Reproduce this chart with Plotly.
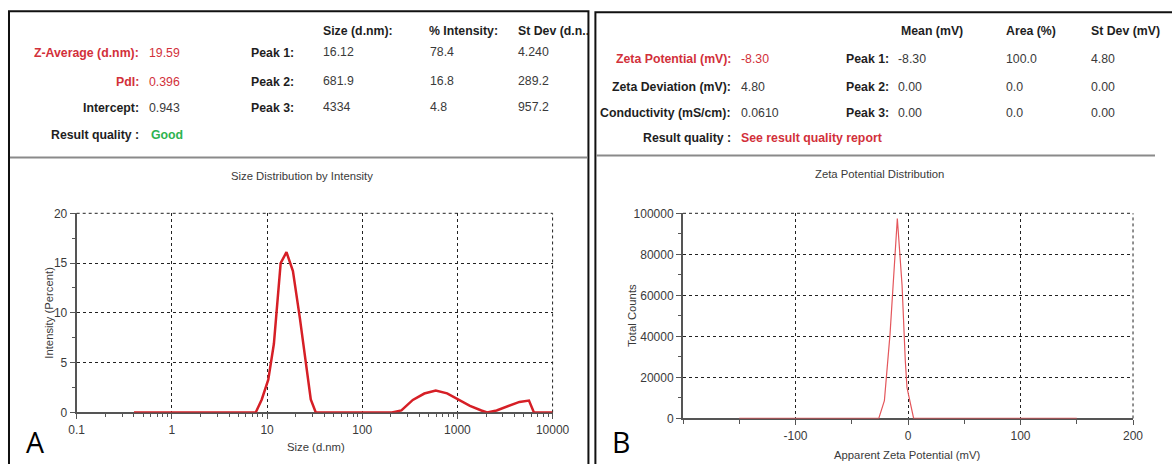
import plotly.graph_objects as go

# ---------------- data ----------------
size_nm = [0.4, 7.6, 8.8, 10.3, 11.8, 13.9, 16.0, 18.7, 22.1, 25.8, 28.8, 32.5,
           205, 258, 340, 449, 592, 780, 1028, 1355, 1786, 2051, 2582, 3404,
           4487, 5649, 6368, 10000]
intensity_pct = [0, 0, 1.3, 3.3, 6.9, 15.0, 16.1, 14.2, 9.5, 4.6, 1.3, 0,
                 0, 0.2, 1.26, 1.9, 2.19, 1.92, 1.33, 0.66, 0.2, 0, 0.2, 0.66,
                 1.06, 1.19, 0, 0]

zeta_mv = [-150, -26, -21, -16, -9.5, -5.3, -2.4, -0.9, 5, 150]
total_counts = [0, 0, 8700, 41000, 97500, 65000, 28000, 15000, 0, 0]

size_ticks = [0.1, 1, 10, 100, 1000, 10000]
size_tick_text = ["0.1", "1", "10", "100", "1000", "10000"]
intensity_ticks = [0, 5, 10, 15, 20]
zeta_ticks = [-100, 0, 100, 200]
zeta_tick_text = ["-100", "0", "100", "200"]
count_ticks = [0, 20000, 40000, 60000, 80000, 100000]
count_tick_text = ["0", "20000", "40000", "60000", "80000", "100000"]

left_header = ["Size (d.nm):", "% Intensity:", "St Dev (d.n.."]
left_labels = ["Z-Average (d.nm):", "PdI:", "Intercept:", "Result quality :"]
left_values = ["19.59", "0.396", "0.943", "Good"]
left_peaks = ["Peak 1:", "Peak 2:", "Peak 3:"]
left_peak_size = ["16.12", "681.9", "4334"]
left_peak_int = ["78.4", "16.8", "4.8"]
left_peak_sd = ["4.240", "289.2", "957.2"]

right_header = ["Mean (mV)", "Area (%)", "St Dev (mV)"]
right_labels = ["Zeta Potential (mV):", "Zeta Deviation (mV):", "Conductivity (mS/cm):", "Result quality :"]
right_values = ["-8.30", "4.80", "0.0610", "See result quality report"]
right_peaks = ["Peak 1:", "Peak 2:", "Peak 3:"]
right_peak_mean = ["-8.30", "0.00", "0.00"]
right_peak_area = ["100.0", "0.0", "0.0"]
right_peak_sd = ["4.80", "0.00", "0.00"]

# ---------------- layout helpers ----------------
W, H = 1172, 464
FONT = "Liberation Sans, Arial, sans-serif"
RED = "#d2303a"
GREEN = "#2eb34f"
DARK = "#1e1e1e"
GRAY_TXT = "#3a3a3a"

# calibration of target pixel positions to layout positions
SX, OX = 0.983, 7.0
SY, OY = 0.974, 4.8


def px(x):
    return ((x - OX) / SX) / W


def py(y):
    return 1 - ((y - OY) / SY) / H


annotations = []


def text(x, y, s, anchor="left", size=12.3, color=DARK, bold=False, angle=0, family=FONT):
    annotations.append(dict(
        x=px(x), y=py(y), xref="paper", yref="paper", text=("<b>%s</b>" % s) if bold else s,
        showarrow=False, xanchor=anchor, yanchor="middle", textangle=angle,
        font=dict(family=family, size=size, color=color)))


fig = go.Figure()

fig.add_trace(go.Scatter(x=size_nm, y=intensity_pct, mode="lines",
                         line=dict(color="#d61f26", width=2.5), cliponaxis=False,
                         xaxis="x", yaxis="y", showlegend=False))
fig.add_trace(go.Scatter(x=zeta_mv, y=total_counts, mode="lines",
                         line=dict(color="#e4575c", width=1.2), cliponaxis=False,
                         xaxis="x2", yaxis="y2", showlegend=False))

grid = dict(showgrid=True, gridcolor="#222222", griddash="dot", gridwidth=1,
            zeroline=False, showline=True, linecolor="#555555", linewidth=2,
            ticks="outside", tickcolor="#555555", ticklen=5, tickwidth=1,
            tickfont=dict(family=FONT, size=12, color=GRAY_TXT), layer="below traces")

fig.update_layout(
    width=W, height=H, autosize=False,
    margin=dict(l=0, r=0, t=0, b=0),
    paper_bgcolor="white", plot_bgcolor="white",
    xaxis=dict(domain=[px(76), px(554)], type="log", range=[-1, 4], anchor="y",
               tickvals=size_ticks, ticktext=size_tick_text,
               minor=dict(ticks="outside", ticklen=3, tickcolor="#555555", dtick="D1", showgrid=False),
               **grid),
    yaxis=dict(domain=[py(412), py(212)], range=[0, 20], anchor="x",
               tickvals=intensity_ticks,
               minor=dict(ticks="outside", ticklen=3, tickcolor="#555555", dtick=2.5, showgrid=False),
               **grid),
    xaxis2=dict(domain=[px(685), px(1137)], range=[-200, 200], anchor="y2",
                tickvals=zeta_ticks, ticktext=zeta_tick_text,
                minor=dict(ticks="outside", ticklen=4, tickcolor="#555555", dtick=50, tick0=0, showgrid=False),
                **grid),
    yaxis2=dict(domain=[py(418), py(212)], range=[0, 100000], anchor="x2",
                tickvals=count_ticks, ticktext=count_tick_text,
                minor=dict(ticks="outside", ticklen=3, tickcolor="#555555", dtick=10000, showgrid=False),
                **grid),
)

# ---------------- header texts: left panel ----------------
hx = [321, 428, 517]
for x, s in zip(hx, left_header):
    text(x, 29, s, bold=True)
rows = [51, 80, 106, 133]
for i, (lab, val) in enumerate(zip(left_labels, left_values)):
    lab_col = RED if i < 2 else DARK
    val_col = RED if i < 2 else (GREEN if i == 3 else GRAY_TXT)
    text(141, rows[i], lab, anchor="right", color=lab_col, bold=True)
    text(149 if i == 3 else 147, rows[i], val, color=val_col, bold=(i == 3))
for i in range(3):
    text(296, rows[i], left_peaks[i], anchor="right", bold=True)
    text(321, rows[i] - 1, left_peak_size[i], color=GRAY_TXT)
    text(429, rows[i] - 1, left_peak_int[i], color=GRAY_TXT)
    text(517, rows[i] - 1, left_peak_sd[i], color=GRAY_TXT)

# ---------------- header texts: right panel ----------------
rhx = [902, 1007, 1093]
for x, s in zip(rhx, right_header):
    text(x, 29, s, bold=True)
rrows = [57, 85, 111, 136]
for i, (lab, val) in enumerate(zip(right_labels, right_values)):
    lab_col = RED if i == 0 else DARK
    val_col = RED if i in (0, 3) else GRAY_TXT
    text(735, rrows[i], lab, anchor="right", color=lab_col, bold=True)
    text(741, rrows[i], val, color=val_col, bold=(i == 3))
for i in range(3):
    text(894, rrows[i], right_peaks[i], anchor="right", bold=True)
    text(899, rrows[i], right_peak_mean[i], color=GRAY_TXT)
    text(1007, rrows[i], right_peak_area[i], color=GRAY_TXT)
    text(1093, rrows[i], right_peak_sd[i], color=GRAY_TXT)

# ---------------- chart titles / axis titles ----------------
text(302, 175, "Size Distribution by Intensity", anchor="center", size=11.3, color=GRAY_TXT)
text(48, 312, "Intensity (Percent)", anchor="center", size=11.3, color=GRAY_TXT, angle=-90)
text(316, 447, "Size (d.nm)", anchor="center", size=11.3, color=GRAY_TXT)
text(882, 173, "Zeta Potential Distribution", anchor="center", size=11.3, color=GRAY_TXT)
text(634, 315, "Total Counts", anchor="center", size=11.3, color=GRAY_TXT, angle=-90)
text(910, 455, "Apparent Zeta Potential (mV)", anchor="center", size=11.3, color=GRAY_TXT)

# panel letters
text(23, 442, "A", size=28.5, color="#000000", family="Open Sans, Liberation Sans, sans-serif")
text(612, 442, "B", size=28.5, color="#000000", family="Open Sans, Liberation Sans, sans-serif")
annotations[-2]["xanchor"] = "left"
annotations[-1]["xanchor"] = "left"

fig.update_layout(annotations=annotations)

# ---------------- panel frames and dotted plot borders ----------------
dot = dict(color="#222222", width=1, dash="dot")
shapes = [
    dict(type="rect", xref="paper", yref="paper", x0=px(8), x1=px(590), y0=-0.1, y1=py(9),
         line=dict(color="#111111", width=2), fillcolor="rgba(0,0,0,0)", layer="below"),
    dict(type="rect", xref="paper", yref="paper", x0=px(597), x1=1.1, y0=-0.1, y1=py(10),
         line=dict(color="#111111", width=2), fillcolor="rgba(0,0,0,0)", layer="below"),
    dict(type="line", xref="paper", yref="paper", x0=px(9), x1=px(589), y0=py(156), y1=py(156),
         line=dict(color="#8a8a8a", width=2)),
    dict(type="line", xref="paper", yref="paper", x0=px(598), x1=1.0, y0=py(154), y1=py(154),
         line=dict(color="#8a8a8a", width=2)),
    dict(type="line", xref="x domain", yref="y domain", x0=0, x1=1, y0=1, y1=1, line=dot, layer="below"),
    dict(type="line", xref="x domain", yref="y domain", x0=1, x1=1, y0=0, y1=1, line=dot, layer="below"),
    dict(type="line", xref="x2 domain", yref="y2 domain", x0=0, x1=1, y0=1, y1=1, line=dot, layer="below"),
    dict(type="line", xref="x2 domain", yref="y2 domain", x0=1, x1=1, y0=0, y1=1, line=dot, layer="below"),
]
fig.update_layout(shapes=shapes)

fig.write_html("out.html", config={"displayModeBar": False},
               post_script="document.body.style.margin='0px';document.body.style.overflow='hidden';")
